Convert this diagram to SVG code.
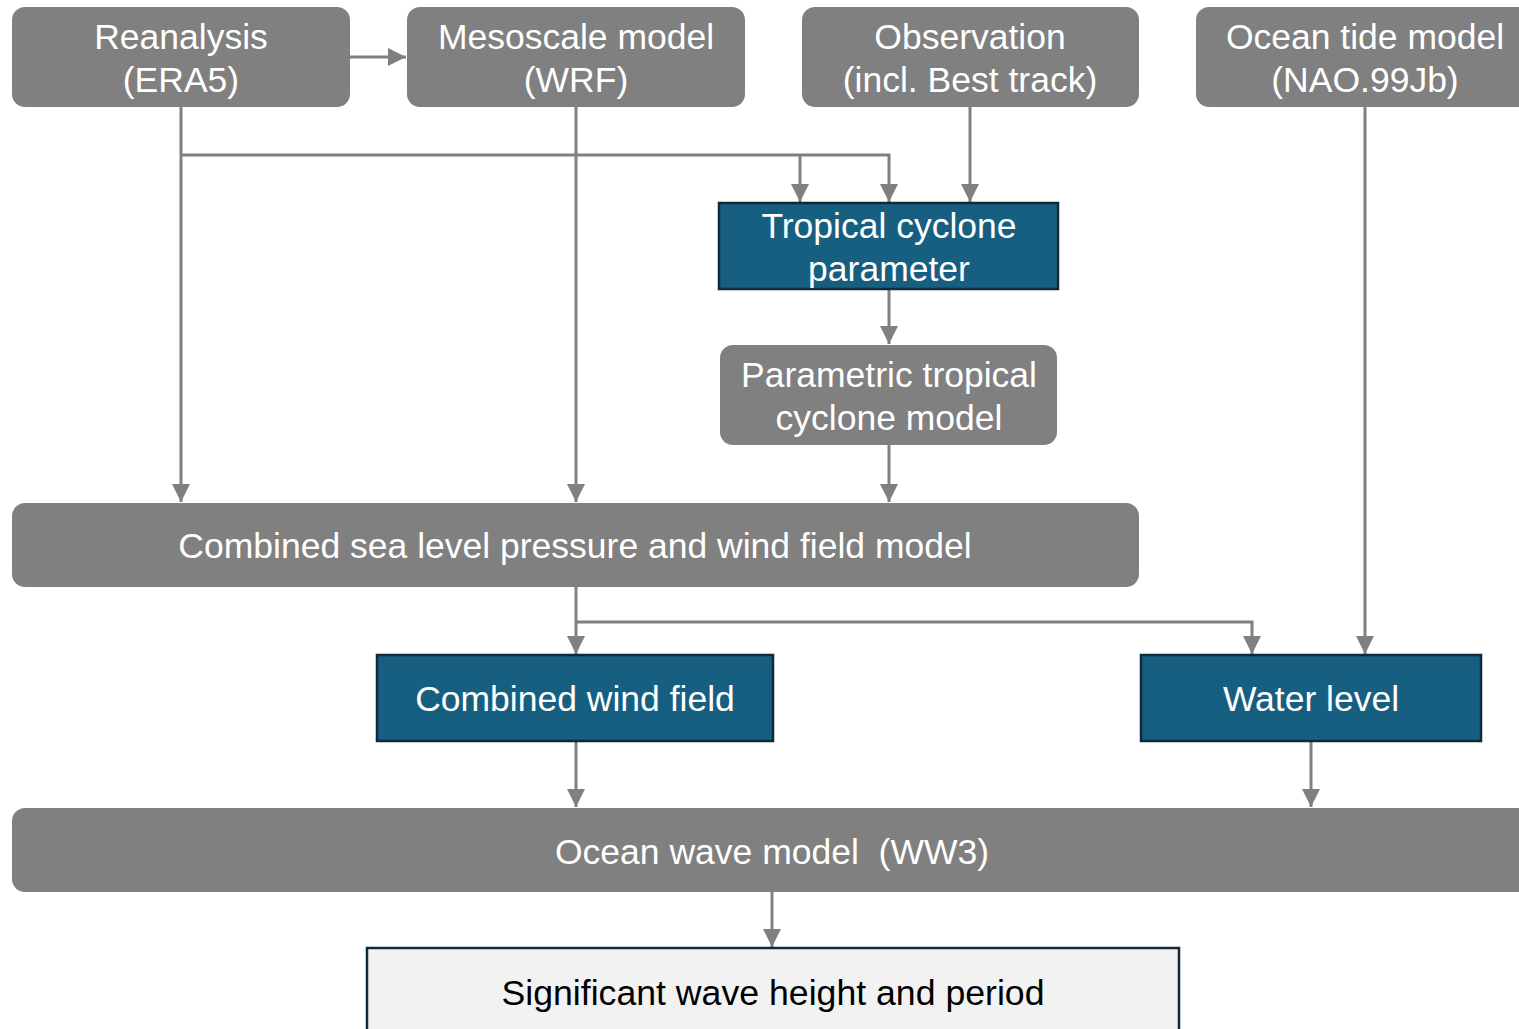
<svg xmlns="http://www.w3.org/2000/svg" width="1519" height="1029" viewBox="0 0 1519 1029">
<style>
.g{fill:#808080}
.t{fill:#175F80;stroke:#0E2A3B;stroke-width:2.5}
.w{fill:#F2F2F2;stroke:#0E2A3B;stroke-width:2.5}
text{font-family:"Liberation Sans",Arial,sans-serif;font-size:35.5px;text-anchor:middle}
.lt{fill:#FFFFFF}
.dk{fill:#000000}
.c{fill:none;stroke:#808080;stroke-width:3}
</style>
<defs>
<marker id="ah" markerWidth="20" markerHeight="18" refX="18" refY="9" orient="auto" markerUnits="userSpaceOnUse">
<path d="M0,0 L18,9 L0,18 Z" fill="#808080"/>
</marker>
</defs>
<rect width="1519" height="1029" fill="#FFFFFF"/>
<g id="connectors">
<path class="c" d="M350,57 H406" marker-end="url(#ah)"/>
<path class="c" d="M181,107 V502" marker-end="url(#ah)"/>
<path class="c" d="M181,155 H889 V202" marker-end="url(#ah)"/>
<path class="c" d="M800,155 V202" marker-end="url(#ah)"/>
<path class="c" d="M970,107 V202" marker-end="url(#ah)"/>
<path class="c" d="M576,107 V502" marker-end="url(#ah)"/>
<path class="c" d="M889,289 V344" marker-end="url(#ah)"/>
<path class="c" d="M889,445 V502" marker-end="url(#ah)"/>
<path class="c" d="M576,587 V654" marker-end="url(#ah)"/>
<path class="c" d="M576,622 H1252 V654" marker-end="url(#ah)"/>
<path class="c" d="M1365,107 V654" marker-end="url(#ah)"/>
<path class="c" d="M576,741 V807" marker-end="url(#ah)"/>
<path class="c" d="M1311,741 V807" marker-end="url(#ah)"/>
<path class="c" d="M772,892 V947" marker-end="url(#ah)"/>
</g>
<g id="reanalysis">
<rect class="g" x="12" y="7" width="338" height="100" rx="13"/>
<text class="lt" x="181" y="49">Reanalysis</text>
<text class="lt" x="181" y="92">(ERA5)</text>
</g>
<g id="mesoscale">
<rect class="g" x="407" y="7" width="338" height="100" rx="13"/>
<text class="lt" x="576" y="49">Mesoscale model</text>
<text class="lt" x="576" y="92">(WRF)</text>
</g>
<g id="observation">
<rect class="g" x="802" y="7" width="337" height="100" rx="13"/>
<text class="lt" x="970" y="49">Observation</text>
<text class="lt" x="970" y="92">(incl. Best track)</text>
</g>
<g id="ocean-tide">
<rect class="g" x="1196" y="7" width="338" height="100" rx="13"/>
<text class="lt" x="1365" y="49">Ocean tide model</text>
<text class="lt" x="1365" y="92">(NAO.99Jb)</text>
</g>
<g id="tc-parameter">
<rect class="t" x="719" y="203" width="339" height="86"/>
<text class="lt" x="889" y="238">Tropical cyclone</text>
<text class="lt" x="889" y="281">parameter</text>
</g>
<g id="parametric-tc">
<rect class="g" x="720" y="345" width="337" height="100" rx="13"/>
<text class="lt" x="889" y="387">Parametric tropical</text>
<text class="lt" x="889" y="430">cyclone model</text>
</g>
<g id="combined-model">
<rect class="g" x="12" y="503" width="1127" height="84" rx="13"/>
<text class="lt" x="575" y="558">Combined sea level pressure and wind field model</text>
</g>
<g id="combined-wind">
<rect class="t" x="377" y="655" width="396" height="86"/>
<text class="lt" x="575" y="711">Combined wind field</text>
</g>
<g id="water-level">
<rect class="t" x="1141" y="655" width="340" height="86"/>
<text class="lt" x="1311" y="711">Water level</text>
</g>
<g id="ocean-wave">
<rect class="g" x="12" y="808" width="1530" height="84" rx="13"/>
<text class="lt" x="772" y="864" xml:space="preserve">Ocean wave model  (WW3)</text>
</g>
<g id="significant">
<rect class="w" x="367" y="948" width="812" height="100"/>
<text class="dk" x="773" y="1005" textLength="543" lengthAdjust="spacingAndGlyphs">Significant wave height and period</text>
</g>
</svg>
